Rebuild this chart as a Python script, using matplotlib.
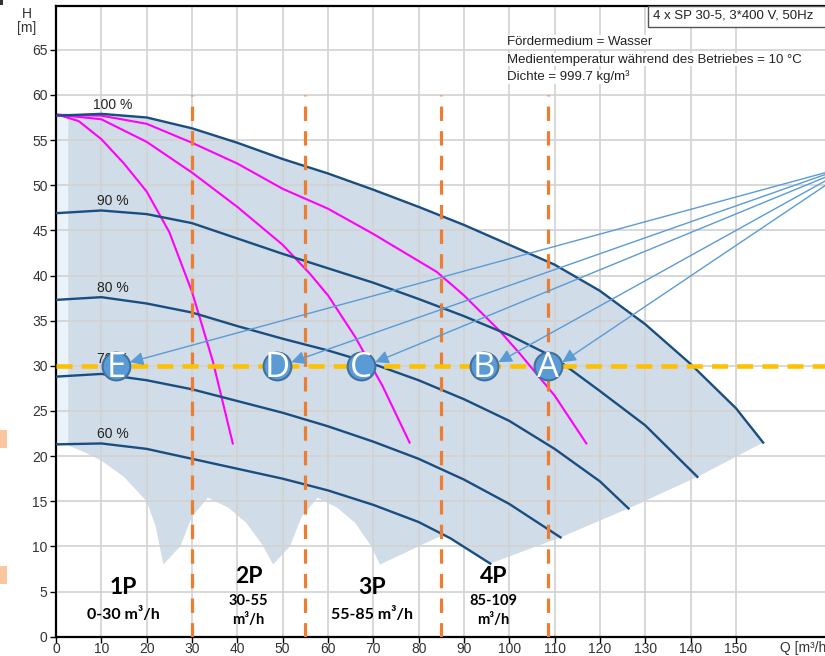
import matplotlib
matplotlib.use('Agg')
import matplotlib.pyplot as plt
from matplotlib.patches import Rectangle

plt.rcParams['font.family'] = ['Liberation Sans', 'DejaVu Sans']

# pump curves at different speeds, Q [m3/h] vs H [m]
q100 = [0, 10, 20, 30, 40, 50, 60, 70, 80, 90, 100, 110, 120, 130, 140, 150, 156]
h100 = [57.7, 57.9, 57.5, 56.3, 54.7, 52.9, 51.3, 49.5, 47.6, 45.6, 43.4, 41.2, 38.3, 34.6, 30.2, 25.3, 21.5]
q90 = [0, 10, 20, 30, 40, 50, 60, 70, 80, 90, 100, 110, 120, 130, 141.5]
h90 = [46.9, 47.2, 46.8, 45.8, 44.1, 42.4, 40.8, 39.2, 37.4, 35.5, 33.4, 30.9, 27.2, 23.4, 17.7]
q80 = [0, 10, 20, 30, 40, 50, 60, 70, 80, 90, 100, 110, 120, 126.3]
h80 = [37.3, 37.6, 36.9, 35.9, 34.4, 33.0, 31.7, 30.2, 28.4, 26.3, 23.9, 20.8, 17.2, 14.2]
q70 = [0, 10, 20, 30, 40, 50, 60, 70, 80, 90, 100, 111.3]
h70 = [28.8, 29.1, 28.4, 27.4, 26.1, 24.8, 23.3, 21.6, 19.7, 17.4, 14.7, 11.0]
q60 = [0, 10, 20, 30, 40, 50, 60, 70, 80, 87, 95.8]
h60 = [21.3, 21.4, 20.8, 19.7, 18.6, 17.5, 16.2, 14.6, 12.7, 10.9, 8.1]

speed_labels = ['100 %', '90 %', '80 %', '70 %', '60 %']
speed_label_h = [58.9, 48.3, 38.6, 30.8, 22.5]

# system curves (magenta)
m1q = [0.5, 5, 10, 15, 20, 25, 30, 34.6, 39]
m1h = [57.8, 57.1, 55.1, 52.4, 49.3, 44.8, 38.2, 30.5, 21.4]
m2q = [0.5, 10, 20, 30, 40, 50, 56, 60, 66, 72, 78]
m2h = [57.8, 57.3, 54.8, 51.4, 47.6, 43.4, 40.2, 37.8, 33.2, 27.8, 21.5]
m3q = [0.5, 10, 20, 30, 40, 50, 60, 70, 80, 84, 90, 98, 102.4, 110, 117]
m3h = [57.8, 57.7, 56.8, 54.7, 52.4, 49.6, 47.4, 44.6, 41.6, 40.4, 37.8, 33.8, 31.3, 26.7, 21.4]

# lower edge of the operating range
low_q = [95.8, 87, 85.5, 71.5, 69.3, 66, 62, 57.7, 54.2, 51.6, 47.9, 45.5, 42, 38,
         33.5, 30, 27.4, 23.7, 22, 20, 15, 10, 6, 2.6]
low_h = [8.1, 10.9, 11.3, 8.0, 10.2, 12.6, 14.3, 15.4, 13.3, 10.0, 8.0, 10.2, 12.6, 14.3,
         15.4, 13.3, 10.0, 8.0, 12.2, 15.0, 17.7, 19.5, 20.5, 21.2]
end_q = [156, 141.5, 126.3, 111.3]
end_h = [21.5, 17.7, 14.2, 11.0]

# pump count boundaries and working points
limits_q = [30, 55, 85, 108.5]
duty_h = 30
points = ['E', 'D', 'C', 'B', 'A']
points_q = [13.2, 48.8, 67.3, 94.5, 108.6]
source_h = [51.4, 51.2, 50.9, 50.5, 50.0]

zones = ['1P', '2P', '3P', '4P']
zone_q = [14.9, 42.5, 69.7, 96.5]
zone_ranges = ['0-30 m³/h', '30-55\nm³/h', '55-85 m³/h', '85-109\nm³/h']

fig = plt.figure(figsize=(8.25, 6.56), dpi=100)
ax = fig.add_axes([56 / 825, 19.3 / 656, 172 * 4.533 / 825, 631 / 656])
ax.set_xlim(0, 172)
ax.set_ylim(0, 631 / 9.03)

# shaded range
poly_q = [2.6] + q100[1:] + end_q[1:] + low_q
poly_h = [57.75] + h100[1:] + end_h[1:] + low_h
ax.fill(poly_q, poly_h, color='#D0DCE7', lw=0, zorder=0.2)
ax.fill_between([0, 2.6], 21.2, [57.7, 57.75], color='#EAF2FA', lw=0, zorder=0.2)

ax.set_axisbelow(True)
ax.grid(True, color='#D2D2D2', lw=1.2)

for q, h in [(m1q, m1h), (m2q, m2h), (m3q, m3h)]:
    ax.plot(q, h, color='#FF00FF', lw=1.5, zorder=2)
for q, h in [(q100, h100), (q90, h90), (q80, h80), (q70, h70), (q60, h60)]:
    ax.plot(q, h, color='#1A4E80', lw=1.7, zorder=3)
for lab, h in zip(speed_labels, speed_label_h):
    ax.text(12.5, h, lab, ha='center', va='center', fontsize=10, color='#222222', zorder=1.5)

for q in limits_q:
    ax.plot([q, q], [0, 60], color='#ED7D31', lw=2.3, dashes=(4.5, 3.2), zorder=4)
ax.axhline(duty_h, color='#FFC000', lw=3.3, dashes=(3.5, 2), zorder=5)

for name, q, hs in zip(points, points_q, source_h):
    ax.annotate('', xy=(q + 3.1, duty_h + 0.4), xytext=(169.8, hs),
                arrowprops=dict(arrowstyle='-|>', color='#5B9BD5', lw=1,
                                mutation_scale=20, shrinkA=0, shrinkB=0),
                zorder=6)
    ax.plot(q, duty_h, 'o', ms=20, mfc='#5B9BD5', mec='#41719C', mew=1.5, zorder=7)
    ax.text(q, duty_h - 0.2, name, ha='center', va='center', fontsize=25,
            color='white', family=['Open Sans', 'DejaVu Sans'], zorder=8)

for name, q, rng in zip(zones, zone_q, zone_ranges):
    two_lines = '\n' in rng
    ax.text(q, 6.7 if two_lines else 5.5, name, ha='center', va='center',
            fontsize=16.5, fontweight='bold', family=['Lato', 'DejaVu Sans'])
    ax.text(q, 2.9 if two_lines else 2.5, rng, ha='center', va='center',
            fontsize=10.5 if two_lines else 11.5, fontweight='bold',
            family=['Lato', 'DejaVu Sans'], linespacing=1.45)

# axes and ticks
ax.set_xticks(range(0, 151, 10))
ax.set_yticks(range(0, 66, 5))
ax.tick_params(axis='both', labelsize=10, colors='black', labelcolor='#333333',
               length=4, width=1)
ax.tick_params(axis='x', pad=0)
ax.tick_params(axis='y', pad=2)
for s in ['left', 'bottom', 'top']:
    ax.spines[s].set_linewidth(1.6)
ax.spines['right'].set_visible(False)

ax.text(159.8, -0.0185, 'Q [m³/h]', transform=ax.get_xaxis_transform(),
        ha='left', va='center', fontsize=10, color='#333333', clip_on=False)
fig.text(26.7 / 825, 1 - 14 / 656, 'H', ha='center', va='center', fontsize=10, color='#333333')
fig.text(26.7 / 825, 1 - 28.3 / 656, '[m]', ha='center', va='center', fontsize=10, color='#333333')

# info block
info = ['Fördermedium = Wasser',
        'Medientemperatur während des Betriebes = 10 °C',
        'Dichte = 999.7 kg/m³']
for i, line in enumerate(info):
    fig.text(507 / 825, 1 - (42 + 17.5 * i) / 656, line, ha='left', va='center',
             fontsize=9.5, color='#222222',
             bbox=dict(boxstyle='square,pad=0.05', fc='white', ec='none'))
fig.add_artist(Rectangle((648 / 825, 1 - 27 / 656), 200 / 825, 21 / 656,
                         transform=fig.transFigure, fc='white', ec='#555555', lw=1))
fig.text(653 / 825, 1 - 16 / 656, '4 x SP 30-5, 3*400 V, 50Hz', ha='left', va='center',
         fontsize=9.5, color='#222222')

# small marks along the left border
for y0 in [430, 566]:
    fig.add_artist(Rectangle((0, 1 - (y0 + 18) / 656), 7 / 825, 18 / 656,
                             transform=fig.transFigure, fc='#F9C6A0', ec='none'))
fig.add_artist(Rectangle((0, 1 - 5 / 656), 3 / 825, 5 / 656,
                         transform=fig.transFigure, fc='#333333', ec='none'))

fig.savefig('out.png', dpi=100)
